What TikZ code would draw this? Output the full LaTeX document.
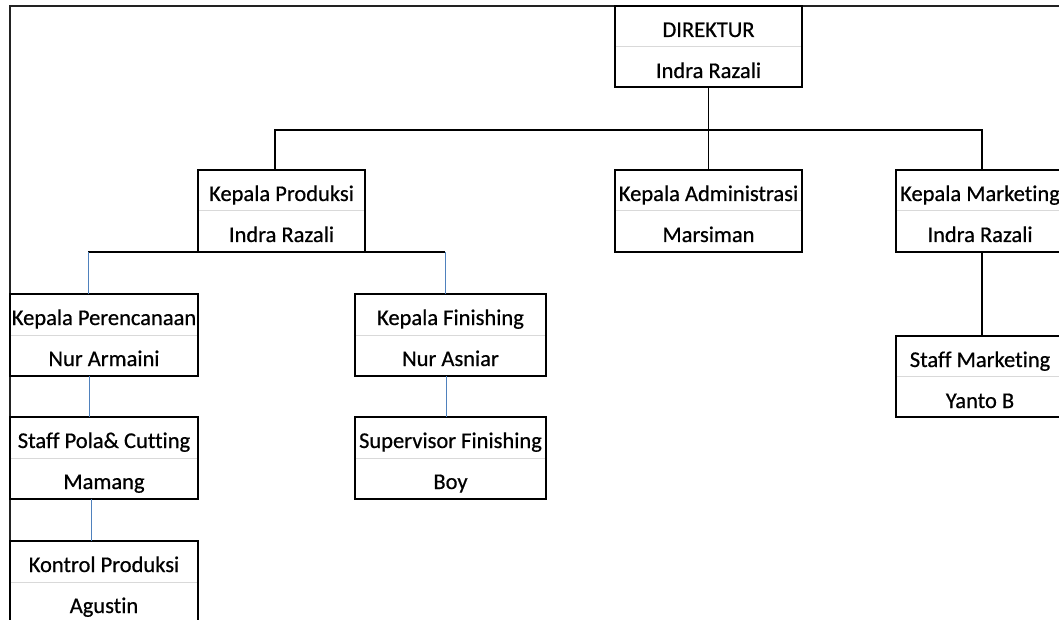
\documentclass[tikz,border=0pt]{standalone}
\usepackage{fontspec}
\setmainfont{Carlito}[Ligatures=NoCommon, FakeBold=0.6]
\definecolor{gridgray}{HTML}{D9D9D9}
\definecolor{linkblue}{HTML}{4F81BD}
\definecolor{framegray}{HTML}{222222}
\tikzset{
  orgframe/.style={draw=black, line width=1.6pt, inner sep=0pt, outer sep=0pt},
  divider/.style={draw=gridgray, line width=1pt, shorten <=0.9pt, shorten >=0.9pt},
  lbl/.style={anchor=base, inner sep=0pt, font=\fontsize{22.5}{26}\selectfont, text=black},
  blackline/.style={draw=black, line width=1.5pt},
  blueline/.style={draw=linkblue, line width=1pt},
  borderline/.style={draw=framegray, line width=1.8pt}
}
\newcommand\orgbox[7]{%
  \node[orgframe, minimum width={#4-#2}, minimum height={#5-#3}] (#1) at ({(#2+#4)/2},{(#3+#5)/2}) {};
  \draw[divider] (#1.west) -- (#1.east);
  \node[lbl] (#1-a) at ([yshift=-31pt]#1.north) {#6};
  \node[lbl] (#1-b) at ([yshift=-72pt]#1.north) {#7};
}
\begin{document}
\begin{tikzpicture}[x=1pt,y=-1pt]
\useasboundingbox (0,0) rectangle (1059,620);
\clip (0,0) rectangle (1059,620);
\fill[white] (0,0) rectangle (1059,620);

% outer frame
\draw[borderline] (1059,6) -- (10,6) -- (10,620);

% boxes
\orgbox{dir}{615}{6}{802}{87}{DIREKTUR}{Indra Razali}
\orgbox{kprod}{198}{170}{365}{252}{Kepala Produksi}{Indra Razali}
\orgbox{kadm}{615}{170}{802}{252}{Kepala Administrasi}{Marsiman}
\orgbox{kmkt}{896}{170}{1064}{252}{Kepala Marketing}{Indra Razali}
\orgbox{smkt}{896}{336}{1064}{417}{Staff Marketing}{Yanto B}
\orgbox{kper}{10}{294}{198}{376}{Kepala Perencanaan}{Nur Armaini}
\orgbox{spola}{10}{417}{198}{499}{Staff Pola\& Cutting}{Mamang}
\orgbox{kontrol}{10}{541}{198}{623}{Kontrol Produksi}{Agustin}
\orgbox{kfin}{355}{294}{546}{376}{Kepala Finishing}{Nur Asniar}
\orgbox{sup}{355}{417}{546}{499}{Supervisor Finishing}{Boy}

% connectors
\coordinate (bus) at (0,130);
\coordinate (pl) at (88,252);
\coordinate (pr) at (445,252);
\draw[blackline] (dir.south) -- (kadm.north);
\draw[blackline] ([xshift=-6.5pt]kprod.north) |- ([xshift=2pt]kmkt.north |- bus) -- ([xshift=2pt]kmkt.north);
\draw[blackline] ([xshift=2pt]kmkt.south) -- ([xshift=2pt]smkt.north);
\draw[blackline] (pl) -- (pr);
\draw[blueline] (pl) -- (pl |- kper.north);
\draw[blueline] (pr) -- (pr |- kfin.north);
\draw[blueline] ([xshift=-15pt]kper.south) -- ([xshift=-15pt]spola.north);
\draw[blueline] ([xshift=-13pt]spola.south) -- ([xshift=-13pt]kontrol.north);
\draw[blueline] ([xshift=-4.5pt]kfin.south) -- ([xshift=-4.5pt]sup.north);
\end{tikzpicture}
\end{document}
